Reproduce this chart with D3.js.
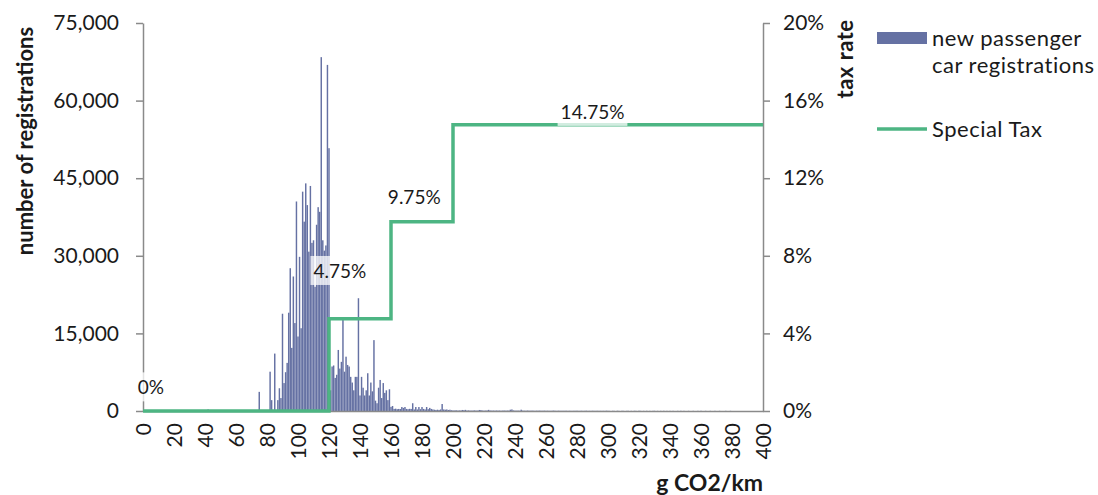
<!DOCTYPE html>
<html><head><meta charset="utf-8">
<script src="https://cdn.jsdelivr.net/npm/d3@7"></script>
<style>
body{margin:0;background:#fff}
text{font-family:Lato, sans-serif;fill:#1a1a1a}
</style></head><body>
<svg id="c" width="1098" height="495"></svg>
<script>
// new passenger car registrations per g CO2/km (index = g CO2/km, 0..400)
const registrations = [
0,0,0,0,0,0,0,0,0,0,
0,0,0,0,0,0,0,0,0,0,
0,0,0,0,0,0,0,0,0,0,
0,0,0,0,0,0,0,0,0,0,
0,0,300,0,0,0,0,0,0,0,
0,0,0,0,0,0,0,0,0,0,
0,0,0,0,0,0,0,0,0,0,
0,0,0,0,0,3700,0,0,0,0,
0,0,7600,2100,0,11100,0,2100,4400,2500,
18800,5400,7500,9300,19000,27600,12200,26000,17000,40500,
14400,29800,16000,42400,36600,44000,39800,30800,43500,32500,
33000,24000,36000,39400,38500,68400,33000,31000,32000,66900,
50800,4000,8600,8800,6400,7000,11800,8200,9500,17800,
7600,10500,8900,8600,6600,5500,4000,6600,6600,21800,
3000,6600,4500,3000,4000,7300,3000,5500,3800,13700,
2000,1500,4500,6000,2500,5400,3500,4000,2100,4200,
800,970,400,450,350,400,380,770,600,770,
400,350,420,400,1500,300,770,300,770,350,
770,400,300,770,350,600,400,300,250,200,
250,200,300,1350,300,250,300,200,250,150,
120,100,150,80,120,90,200,150,220,100,
120,90,80,100,120,80,90,200,180,100,
80,90,110,220,100,80,90,70,100,80,
90,60,80,100,70,90,80,250,300,120,
80,70,90,60,250,80,70,60,90,70,
60,80,60,50,70,60,80,50,60,70,
50,60,50,40,60,80,50,40,60,50,
40,50,40,60,30,50,40,30,50,40,
60,30,40,50,30,40,60,30,40,30,
50,40,30,50,30,40,30,40,30,60,
40,30,0,40,30,0,50,30,0,40,
30,0,30,40,0,30,0,40,30,0,
50,30,0,30,0,40,0,30,0,30,
40,0,30,0,30,0,40,0,30,0,
30,0,30,0,0,30,0,40,0,30,
0,0,30,0,0,30,0,0,30,0,
40,0,0,30,0,0,30,0,0,30,
0,0,30,0,0,0,30,0,0,30,
0,0,0,0,0,0,0,0,0,0,
0,0,0,0,0,0,0,0,0,0,
0
];
// Special Tax: thresholds (g CO2/km) and rate (%) starting at each threshold
const taxThresholds = [0, 120, 160, 200, 400];
const taxRates = [0, 4.75, 9.75, 14.75, 14.75];
const taxLabels = ["0%", "4.75%", "9.75%", "14.75%"];
const taxLabelAtG = [5, 127, 175, 290];
const taxLabelAtRate = [1.2, 7.2, 11.0, 15.4];
const xTicks = [0,20,40,60,80,100,120,140,160,180,200,220,240,260,280,300,320,340,360,380,400];
const yTicks = [0,15000,30000,45000,60000,75000];
const y2Ticks = [0,4,8,12,16,20];
const legendLabels = [["new passenger","car registrations"],["Special Tax"]];

const barColor = "#6571a3", lineColor = "#4db583", axisColor = "#8a8a8a";
const svg = d3.select("#c");
const L = 143, R = 763, T = 23, B = 411;
const x = d3.scaleLinear().domain([0,400]).range([L,R]);
const y = d3.scaleLinear().domain([0,75000]).range([B,T]);
const y2 = d3.scaleLinear().domain([0,20]).range([B,T]);

// bars
const bw = 1.45;
svg.append("g").selectAll("rect").data(registrations).join("rect")
  .attr("x",(d,i)=>x(i)-bw/2).attr("width",bw)
  .attr("y",d=>y(d)).attr("height",d=>B-y(d))
  .attr("fill",barColor);

// axes
function styleAxis(g){
  g.select(".domain").attr("stroke",axisColor).attr("stroke-width",1.5);
  g.selectAll(".tick line").attr("stroke",axisColor).attr("stroke-width",1.5);
  g.selectAll(".tick text").style("font-size","21px").attr("fill","#1a1a1a");
}
svg.append("g").attr("transform",`translate(${L},0)`)
  .call(d3.axisLeft(y).tickValues(yTicks).tickFormat(d3.format(",")).tickSize(7).tickPadding(17).tickSizeOuter(0))
  .call(styleAxis);
svg.append("g").attr("transform",`translate(${R},0)`)
  .call(d3.axisRight(y2).tickValues(y2Ticks).tickFormat(d=>d+"%").tickSize(7).tickPadding(13).tickSizeOuter(0))
  .call(styleAxis);
const xa = svg.append("g").attr("transform",`translate(0,${B})`)
  .call(d3.axisBottom(x).tickValues(xTicks).tickSize(0).tickSizeOuter(0))
  .call(styleAxis);
xa.selectAll(".tick text").attr("text-anchor","end").attr("transform","rotate(-90)")
  .attr("x",-12).attr("y",0).attr("dy","0.36em").style("font-size","21px");

// special tax line
const taxPts = taxThresholds.map((t,i)=>[t,taxRates[i]]);
svg.append("path").datum(taxPts)
  .attr("d",d3.line().x(d=>x(d[0])).y(d=>y2(d[1])).curve(d3.curveStepAfter))
  .attr("fill","none").attr("stroke",lineColor).attr("stroke-width",3.5);

// tax labels
taxLabels.forEach((t,i)=>{
  const g = svg.append("g").attr("transform",`translate(${x(taxLabelAtG[i])},${y2(taxLabelAtRate[i])})`);
  const tx = g.append("text").attr("text-anchor","middle").attr("dy","0.35em").style("font-size","19px").text(t);
  const bb = tx.node().getBBox();
  g.insert("rect","text").attr("x",bb.x-3).attr("y",bb.y-3).attr("width",bb.width+6).attr("height",bb.height+6)
    .attr("fill","#fff").attr("fill-opacity",0.75);
});

// axis titles
svg.append("text").attr("transform","translate(33,141) rotate(-90)").attr("text-anchor","middle")
  .style("font-size","22px").style("font-weight","bold").text("number of registrations");
svg.append("text").attr("transform","translate(853,59) rotate(-90)").attr("text-anchor","middle")
  .style("font-size","22px").style("font-weight","bold").style("letter-spacing","0.5px").text("tax rate");
svg.append("text").attr("x",R).attr("y",491).attr("text-anchor","end")
  .style("font-size","23px").style("font-weight","bold").text("g CO2/km");

// legend
svg.append("rect").attr("x",877).attr("y",32).attr("width",50).attr("height",12).attr("fill",barColor);
legendLabels[0].forEach((s,i)=>svg.append("text").attr("x",932).attr("y",46+i*27)
  .style("font-size","22px").style("letter-spacing","0.5px").text(s));
svg.append("line").attr("x1",877).attr("x2",927).attr("y1",129).attr("y2",129).attr("stroke",lineColor).attr("stroke-width",3.5);
svg.append("text").attr("x",932).attr("y",137).style("font-size","22px").style("letter-spacing","0.5px").text(legendLabels[1][0]);
</script></body></html>
